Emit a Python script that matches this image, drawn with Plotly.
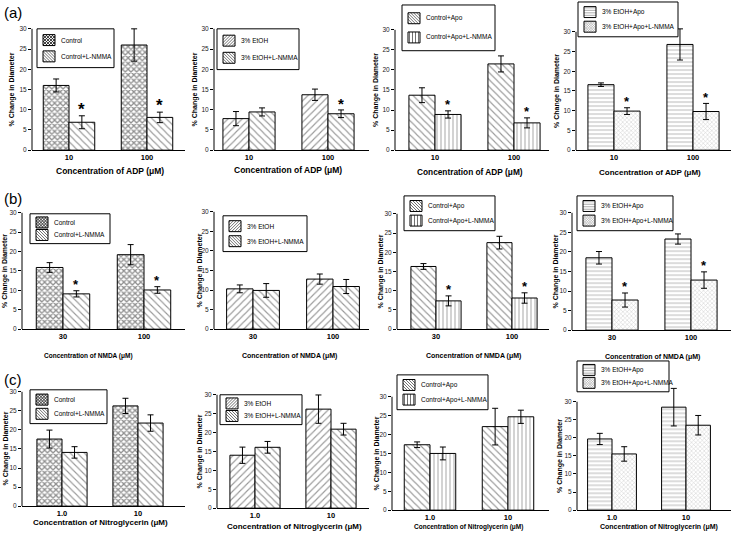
import plotly.graph_objects as go

W, H = 734, 536
FONT = "Liberation Sans, Arial, sans-serif"

# ---------------- data ----------------
row_tick_labels = [["10", "100"], ["30", "100"], ["1.0", "10"]]
row_x_titles = ["Concentration of ADP (μM)", "Concentration of NMDA (μM)",
                "Concentration of Nitroglycerin (μM)"]
panel_labels = ["(a)", "(b)", "(c)"]
series_names = [["Control", "Control+L-NMMA"],
                ["3% EtOH", "3% EtOH+L-NMMA"],
                ["Control+Apo", "Control+Apo+L-NMMA"],
                ["3% EtOH+Apo", "3% EtOH+Apo+L-NMMA"]]

# ADP
adp_control = [16.0, 26.0];        adp_control_err = [1.6, 4.0]
adp_control_lnmma = [6.9, 8.1];    adp_control_lnmma_err = [1.6, 1.3]
adp_etoh = [7.8, 13.7];            adp_etoh_err = [1.75, 1.4]
adp_etoh_lnmma = [9.45, 9.0];      adp_etoh_lnmma_err = [1.0, 0.95]
adp_apo = [13.7, 21.5];            adp_apo_err = [1.85, 2.0]
adp_apo_lnmma = [8.9, 6.8];        adp_apo_lnmma_err = [0.9, 1.25]
adp_etohapo = [16.6, 26.8];        adp_etohapo_err = [0.45, 3.95]
adp_etohapo_lnmma = [9.9, 9.8];    adp_etohapo_lnmma_err = [0.85, 2.05]
adp_stars = [[True, True], [False, True], [True, True], [True, True]]

# NMDA
nmda_control = [15.9, 19.2];       nmda_control_err = [1.25, 2.6]
nmda_control_lnmma = [9.1, 10.1];  nmda_control_lnmma_err = [0.8, 0.85]
nmda_etoh = [10.3, 12.8];          nmda_etoh_err = [1.0, 1.3]
nmda_etoh_lnmma = [9.9, 10.9];     nmda_etoh_lnmma_err = [1.75, 1.8]
nmda_apo = [16.3, 22.5];           nmda_apo_err = [0.75, 1.65]
nmda_apo_lnmma = [7.35, 8.1];      nmda_apo_lnmma_err = [1.3, 1.35]
nmda_etohapo = [18.5, 23.3];       nmda_etohapo_err = [1.6, 1.3]
nmda_etohapo_lnmma = [7.7, 12.8];  nmda_etohapo_lnmma_err = [1.8, 2.1]
nmda_stars = [[True, True], [False, False], [True, True], [True, True]]

# Nitroglycerin
ntg_control = [17.6, 26.3];        ntg_control_err = [2.35, 2.0]
ntg_control_lnmma = [14.1, 21.8];  ntg_control_lnmma_err = [1.5, 2.15]
ntg_etoh = [14.0, 26.2];           ntg_etoh_err = [2.15, 3.75]
ntg_etoh_lnmma = [16.1, 20.9];     ntg_etoh_lnmma_err = [1.55, 1.55]
ntg_apo = [17.3, 22.1];            ntg_apo_err = [0.75, 4.85]
ntg_apo_lnmma = [15.0, 24.7];      ntg_apo_lnmma_err = [1.7, 1.75]
ntg_etohapo = [19.7, 28.5];        ntg_etohapo_err = [1.55, 5.2]
ntg_etohapo_lnmma = [15.55, 23.5]; ntg_etohapo_lnmma_err = [2.0, 2.7]
ntg_stars = [[False, False], [False, False], [False, False], [False, False]]

rows = [
    [[(adp_control, adp_control_err), (adp_control_lnmma, adp_control_lnmma_err)],
     [(adp_etoh, adp_etoh_err), (adp_etoh_lnmma, adp_etoh_lnmma_err)],
     [(adp_apo, adp_apo_err), (adp_apo_lnmma, adp_apo_lnmma_err)],
     [(adp_etohapo, adp_etohapo_err), (adp_etohapo_lnmma, adp_etohapo_lnmma_err)]],
    [[(nmda_control, nmda_control_err), (nmda_control_lnmma, nmda_control_lnmma_err)],
     [(nmda_etoh, nmda_etoh_err), (nmda_etoh_lnmma, nmda_etoh_lnmma_err)],
     [(nmda_apo, nmda_apo_err), (nmda_apo_lnmma, nmda_apo_lnmma_err)],
     [(nmda_etohapo, nmda_etohapo_err), (nmda_etohapo_lnmma, nmda_etohapo_lnmma_err)]],
    [[(ntg_control, ntg_control_err), (ntg_control_lnmma, ntg_control_lnmma_err)],
     [(ntg_etoh, ntg_etoh_err), (ntg_etoh_lnmma, ntg_etoh_lnmma_err)],
     [(ntg_apo, ntg_apo_err), (ntg_apo_lnmma, ntg_apo_lnmma_err)],
     [(ntg_etohapo, ntg_etohapo_err), (ntg_etohapo_lnmma, ntg_etohapo_lnmma_err)]],
]
row_stars = [adp_stars, nmda_stars, ntg_stars]

# ---------------- styling / layout ----------------
pat = {
    "ctrl": dict(shape="x", size=4, solidity=0.55, fgcolor="#222", bgcolor="white"),
    "bs": dict(shape="\\", size=5, solidity=0.22, fgcolor="#333", bgcolor="white"),
    "fs": dict(shape="/", size=5, solidity=0.22, fgcolor="#333", bgcolor="white"),
    "vl": dict(shape="|", size=4, solidity=0.22, fgcolor="#333", bgcolor="white"),
    "hl": dict(shape="-", size=4, solidity=0.3, fgcolor="#888", bgcolor="white"),
    "dots": dict(shape="x", size=3, solidity=0.3, fgcolor="#999", bgcolor="white"),
}
col_patterns = [("ctrl", "bs"), ("fs", "bs"), ("bs", "vl"), ("hl", "dots")]

# panel geometry in pixels: L, R, y0px, y30px, group-center px, group spacing px
geo = [
    [(32, 185, 151, 29, 69, 78), (214, 369, 151, 29, 249, 79),
     (395, 549, 151, 30, 435, 79), (576, 731, 151, 32, 614, 79)],
    [(22, 185, 331, 214, 63, 81), (214, 369, 331, 213, 253, 80),
     (397, 549, 331, 215, 436, 76), (572, 731, 332, 214, 612, 79)],
    [(22, 185, 509, 394, 62, 76), (217, 369, 511, 397, 255, 76),
     (392, 549, 513, 399, 430, 78), (577, 731, 513, 404, 612, 74)],
]
# legend boxes in pixels: x0, y0, x1, y1
legend_box = [
    [(37, 29, 114, 68), (217, 29, 299, 70), (402, 5, 495, 51), (578, 2, 678, 37)],
    [(30, 215, 110, 245), (223, 217, 307, 253), (404, 197, 495, 232), (577, 197, 673, 232)],
    [(30, 392, 107, 426), (220, 397, 302, 427), (397, 377, 488, 412), (577, 363, 669, 394)],
]
xtitle_pos = [
    [(110, 172, 8.5), (288, 171, 8.5), (470, 173, 8.3), (650, 173, 8)],
    [(88, 358, 6.5), (289, 358, 7), (473, 358, 7), (652, 359, 7)],
    [(100, 525, 8), (294, 529, 8), (468, 530, 6.5), (659, 530, 7)],
]
ytitle_x = [[12, 195, 376, 557], [5, 200, 381, 556], [5.5, 200, 377, 560]]
star_size = [[17, 15, 13, 13], [13, 13, 13, 13], [13, 13, 13, 13]]
label_y = [13, 200, 382]


def PX(x):
    return x / W


def PY(y):
    return 1 - y / H


def swatch_lines(x0, y0, w, h, kind):
    """line segments (pixel coords) imitating a fill pattern inside a swatch"""
    segs = []
    sp = {"ctrl": 3, "bs": 3, "fs": 3, "vl": 3, "hl": 2.5, "dots": 2.5}[kind]
    if kind in ("bs", "ctrl", "dots"):
        k = -h + sp / 2
        while k < w:
            ya, yb = max(0, -k), min(h, w - k)
            if yb > ya:
                segs.append((x0 + ya + k, y0 + ya, x0 + yb + k, y0 + yb))
            k += sp
    if kind in ("fs", "ctrl", "dots"):
        k = sp / 2
        while k < w + h:
            ya, yb = max(0, k - w), min(h, k)
            if yb > ya:
                segs.append((x0 + k - ya, y0 + ya, x0 + k - yb, y0 + yb))
            k += sp
    if kind == "vl":
        x = sp / 2
        while x < w:
            segs.append((x0 + x, y0, x0 + x, y0 + h))
            x += sp
    if kind == "hl":
        y = sp / 2
        while y < h:
            segs.append((x0, y0 + y, x0 + w, y0 + y))
            y += sp
    return " ".join("M%.5f,%.5f L%.5f,%.5f" % (PX(a), PY(b), PX(c), PY(d))
                    for a, b, c, d in segs)


sw_style = {"ctrl": ("#222", 0.9), "bs": ("#333", 0.7), "fs": ("#333", 0.7),
            "vl": ("#333", 0.7), "hl": ("#888", 0.7), "dots": ("#aaa", 0.6)}

YMAX = 34
fig = go.Figure()
layout = dict(width=W, height=H, margin=dict(l=0, r=0, t=0, b=0),
              paper_bgcolor="white", plot_bgcolor="rgba(0,0,0,0)",
              barmode="overlay", font=dict(family=FONT, color="black"),
              showlegend=False)
annotations = []
shapes = []

for r in range(3):
    for c in range(4):
        n = r * 4 + c + 1
        sfx = "" if n == 1 else str(n)
        L, R, y0, y30, cg, s = geo[r][c]
        top = y0 - YMAX / 30 * (y0 - y30)
        xr = [(L - cg) / s, (R - cg) / s]
        layout["xaxis" + sfx] = dict(
            domain=[L / W, R / W], range=xr, anchor="y" + sfx,
            showline=True, linecolor="black", linewidth=1, showgrid=False,
            zeroline=False, tickvals=[0, 1],
            ticktext=["<b>%s</b>" % t for t in row_tick_labels[r]],
            ticks="", tickfont=dict(size=7.5, family=FONT, color="black"),
            fixedrange=True)
        layout["yaxis" + sfx] = dict(
            domain=[1 - y0 / H, 1 - top / H], range=[0, YMAX], anchor="x" + sfx,
            showline=False, showgrid=False, zeroline=False,
            tickvals=[0, 5, 10, 15, 20, 25, 30], ticks="outside", ticklen=3,
            tickcolor="black", tickfont=dict(size=6.5, family=FONT, color="#222"),
            fixedrange=True)
        shapes.append(dict(type="line", xref="x%s domain" % sfx, yref="y" + sfx,
                           x0=0, x1=0, y0=0, y1=30,
                           line=dict(color="black", width=1)))
        for k in range(2):
            vals, errs = rows[r][c][k]
            fig.add_trace(go.Bar(
                x=[0, 1], y=vals, width=0.33, offset=-0.33 if k == 0 else 0,
                name=series_names[c][k],
                xaxis="x" + sfx, yaxis="y" + sfx,
                marker=dict(color="white", line=dict(color="black", width=1),
                            pattern=pat[col_patterns[c][k]]),
                error_y=dict(type="data", array=errs, color="black",
                             thickness=1, width=3),
                hoverinfo="skip"))
        # significance stars
        vals2, errs2 = rows[r][c][1]
        for g in range(2):
            if row_stars[r][c][g]:
                annotations.append(dict(
                    x=0.165 + g, y=vals2[g] + errs2[g] + 2.6, xref="x" + sfx,
                    yref="y" + sfx, text="<b>*</b>", showarrow=False,
                    xanchor="center", yanchor="middle",
                    yshift=-4, font=dict(size=star_size[r][c], family=FONT,
                                         color="black")))
        # legend box (drawn by hand to match the compact boxed legends)
        bx0, by0, bx1, by1 = legend_box[r][c]
        shapes.append(dict(type="rect", xref="paper", yref="paper",
                           x0=PX(bx0), x1=PX(bx1), y0=PY(by1), y1=PY(by0),
                           fillcolor="white", line=dict(color="black", width=1)))
        bh = by1 - by0
        for k in range(2):
            cy = by0 + bh * (0.29 if k == 0 else 0.71)
            sx, sy, sw, shh = bx0 + 6, cy - 5.5, 12, 11
            kind = col_patterns[c][k]
            col, lw = sw_style[kind]
            shapes.append(dict(type="path", xref="paper", yref="paper",
                               path=swatch_lines(sx, sy, sw, shh, kind),
                               line=dict(color=col, width=lw)))
            shapes.append(dict(type="rect", xref="paper", yref="paper",
                               x0=PX(sx), x1=PX(sx + sw), y0=PY(sy + shh), y1=PY(sy),
                               line=dict(color="black", width=1)))
            annotations.append(dict(x=PX(bx0 + 22), y=PY(cy), xref="paper",
                                    yref="paper", xanchor="left", yanchor="middle",
                                    text=series_names[c][k], showarrow=False,
                                    font=dict(size=6.5, family=FONT, color="black")))
        tx, ty, tsz = xtitle_pos[r][c]
        annotations.append(dict(x=tx / W, y=1 - ty / H, xref="paper", yref="paper",
                                xanchor="center", yanchor="middle",
                                text="<b>%s</b>" % row_x_titles[r], showarrow=False,
                                font=dict(size=tsz, family=FONT, color="black")))
        annotations.append(dict(x=ytitle_x[r][c] / W, y=1 - (y0 + y30) / 2 / H,
                                xref="paper", yref="paper", textangle=-90,
                                xanchor="center", yanchor="middle",
                                text="<b>% Change in Diameter</b>", showarrow=False,
                                font=dict(size=7, family=FONT, color="black")))
    annotations.append(dict(x=2 / W, y=1 - label_y[r] / H, xref="paper", yref="paper",
                            xanchor="left", yanchor="middle",
                            text=panel_labels[r], showarrow=False,
                            font=dict(size=15, family=FONT, color="black")))

layout["annotations"] = annotations
layout["shapes"] = shapes
fig.update_layout(**layout)
fig.write_html("out.html", config={"displayModeBar": False, "staticPlot": True},
               post_script="document.body.style.margin='0';document.body.style.overflow='hidden';")
